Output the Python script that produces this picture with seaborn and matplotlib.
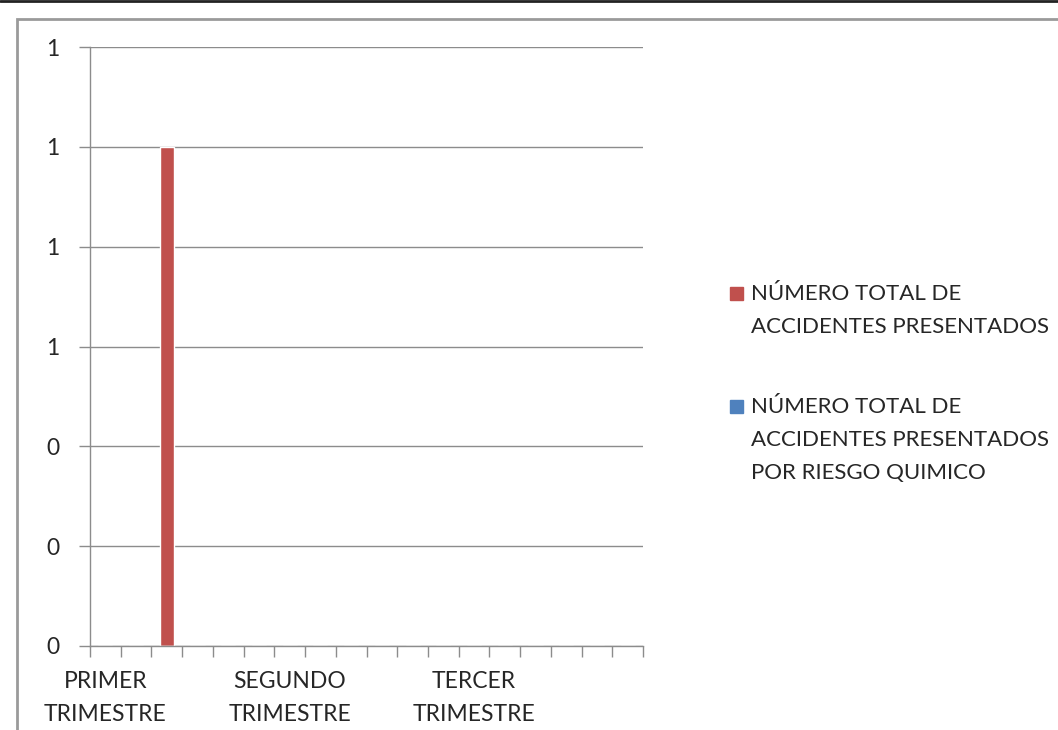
import matplotlib
matplotlib.use("Agg")
import matplotlib.pyplot as plt
import seaborn as sns
import pandas as pd
import numpy as np
from matplotlib.lines import Line2D
from matplotlib.patches import Rectangle
from matplotlib.ticker import FormatStrFormatter, FixedLocator

sns.set_style('white')
plt.rcParams['font.family'] = ['Lato', 'DejaVu Sans']

# datos
categorias = ['PRIMER\nTRIMESTRE', 'c2', 'c3', 'c4', 'c5', 'c6',
              'SEGUNDO\nTRIMESTRE', 'c8', 'c9', 'c10', 'c11', 'c12',
              'TERCER\nTRIMESTRE', 'c14', 'c15', 'c16', 'c17', 'c18']
etiquetas_visibles = ['PRIMER\nTRIMESTRE', 'SEGUNDO\nTRIMESTRE', 'TERCER\nTRIMESTRE']
total_accidentes = [0, 0, 1, 0, 0, 0, 0, 0, 0, 0, 0, 0, 0, 0, 0, 0, 0, 0]
riesgo_quimico = [0] * 18
serie1 = 'NÚMERO TOTAL DE\nACCIDENTES PRESENTADOS'
serie2 = 'NÚMERO TOTAL DE\nACCIDENTES PRESENTADOS\nPOR RIESGO QUIMICO'
y_ticks = [0, 0.2, 0.4, 0.6, 0.8, 1.0, 1.2]

df = pd.DataFrame({
    'categoria': categorias * 2,
    'valor': total_accidentes + riesgo_quimico,
    'serie': [serie1] * 18 + [serie2] * 18,
})

colores = {serie1: '#C0504D', serie2: '#4F81BD'}
gris = '#8C8C8C'
fs = 16.5

fig = plt.figure(figsize=(10.58, 7.30), dpi=100)
ax = fig.add_axes([90/1058, 1 - 646/730, (643-90)/1058, (646-47)/730])

sns.barplot(data=df, x='categoria', y='valor', hue='serie', palette=colores,
            dodge=False, width=0.46, ax=ax, legend=False, saturation=1)

ax.set_ylim(0, 1.2)
ax.set_xlim(-0.5, 17.5)
ax.yaxis.set_major_locator(FixedLocator(y_ticks))
ax.yaxis.set_major_formatter(FormatStrFormatter('%.0f'))
ax.grid(axis='y', color=gris, linewidth=1)
ax.set_axisbelow(True)

pos = [categorias.index(e) for e in etiquetas_visibles]
ax.set_xticks(pos)
ax.set_xticklabels(etiquetas_visibles, linespacing=1.7)
ax.set_xticks(np.arange(-0.5, 18, 1), minor=True)
ax.tick_params(axis='x', which='major', bottom=True, length=0, pad=18, labelsize=fs)
ax.tick_params(axis='x', which='minor', bottom=True, length=8, color=gris, width=1, direction='out')
ax.tick_params(axis='y', left=True, length=8, color=gris, width=1, pad=14, labelsize=fs)
ax.set_xlabel('')
ax.set_ylabel('')

for s in ['top', 'right']:
    ax.spines[s].set_visible(False)
for s in ['left', 'bottom']:
    ax.spines[s].set_color(gris)
    ax.spines[s].set_linewidth(1)

# leyenda (cuadro alineado con la primera linea, como en Excel)
for serie, y_top in [(serie1, 287), (serie2, 400)]:
    fig.add_artist(Rectangle((730/1058, 1 - (y_top + 13)/730), 13/1058, 13/730,
                             transform=fig.transFigure, color=colores[serie]))
    fig.text(751/1058, 1 - (y_top - 3)/730, serie, fontsize=16, va='top', ha='left',
             linespacing=1.8)

# marcos
fig.add_artist(Rectangle((17/1058, -0.1), 1.2, 1 - 19/730 + 0.1,
                         transform=fig.transFigure, fill=False,
                         edgecolor='#9A9A9A', linewidth=2))
fig.add_artist(Line2D([0, 1], [1 - 1/730, 1 - 1/730], transform=fig.transFigure,
                      color='#222222', linewidth=2))

fig.savefig('out.png', dpi=100)
